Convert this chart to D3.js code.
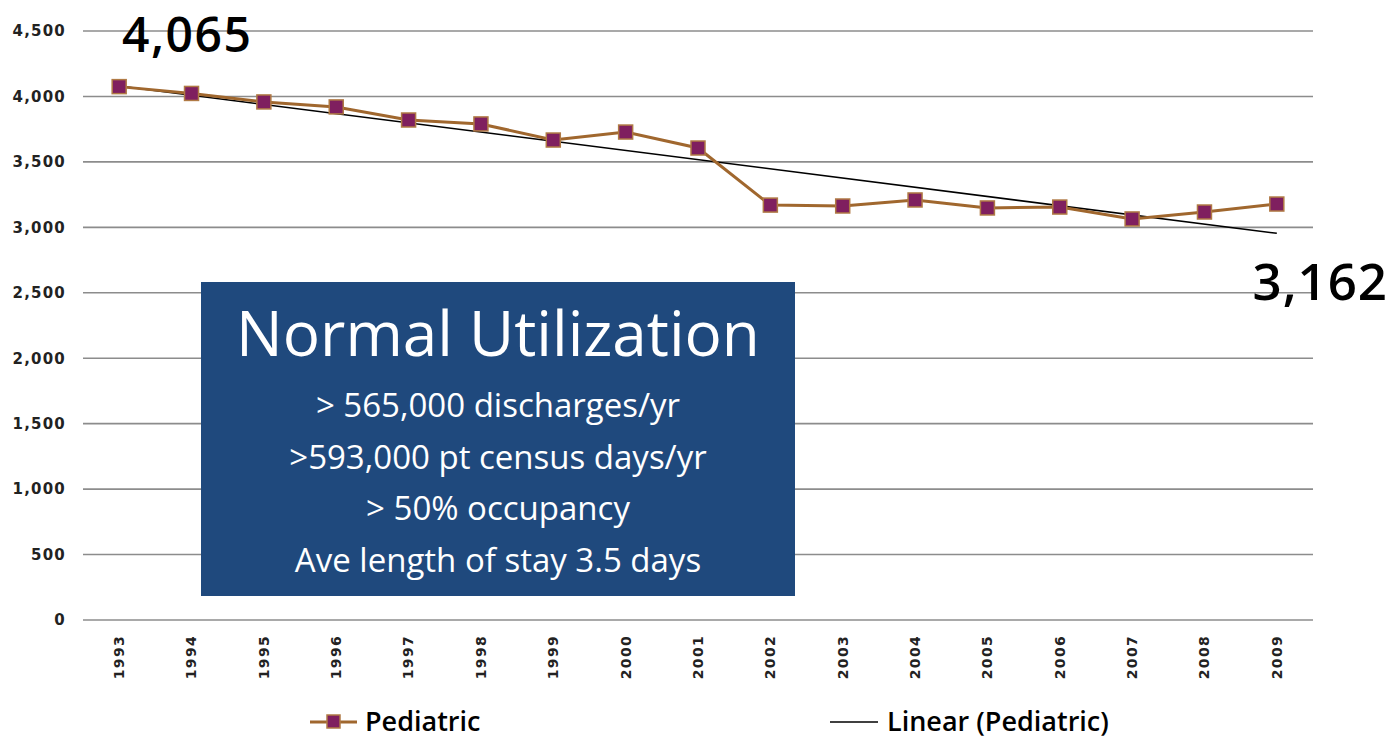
<!DOCTYPE html>
<html>
<head>
<meta charset="utf-8">
<script src="https://cdn.jsdelivr.net/npm/d3@7"></script>
<style>
  body { margin: 0; background: #fff; }
  svg { display: block; }
</style>
</head>
<body>
<div class="panel"></div>
<script>
const width = 1395;
const height = 741;
const margins = {top: 31, right: 82, bottom: 121, left: 83};

const years = ["1993","1994","1995","1996","1997","1998","1999","2000","2001",
               "2002","2003","2004","2005","2006","2007","2008","2009"];
const pediatric = [4075, 4023, 3958, 3920, 3820, 3790, 3667, 3728, 3606,
                   3170, 3163, 3209, 3148, 3155, 3064, 3117, 3178];
const yTicks = [0, 500, 1000, 1500, 2000, 2500, 3000, 3500, 4000, 4500];
const boxLines = ["> 565,000 discharges/yr", ">593,000 pt census days/yr",
                  "> 50% occupancy", "Ave length of stay 3.5 days"];
const callouts = ["4,065", "3,162"];

const svg = d3.select(".panel")
  .append("svg")
  .attr("width", width)
  .attr("height", height);

const xScale = d3.scaleBand()
  .domain(years)
  .range([margins.left, width - margins.right]);

const yScale = d3.scaleLinear()
  .domain([0, 4500])
  .range([height - margins.bottom, margins.top]);

const cx = d => xScale(d) + xScale.bandwidth() / 2;

// gridlines
svg.append("g")
  .selectAll("line")
  .data(yTicks)
  .enter()
  .append("line")
  .attr("x1", margins.left)
  .attr("x2", width - margins.right)
  .attr("y1", d => yScale(d))
  .attr("y2", d => yScale(d))
  .attr("stroke", "#8c8c8c")
  .attr("stroke-width", 1.6);

const yAxis = d3.axisLeft(yScale).tickValues(yTicks).tickFormat(d3.format(",")).tickSize(0).tickPadding(17);
svg.append("g")
  .attr("transform", `translate(${margins.left},0)`)
  .call(yAxis)
  .call(g => g.select(".domain").remove())
  .selectAll("text")
  .attr("font-family", "DejaVu Sans")
  .attr("font-weight", "bold")
  .attr("font-size", 15)
  .attr("letter-spacing", 1.2)
  .attr("fill", "#222");

const xAxis = d3.axisBottom(xScale).tickSize(0).tickPadding(0);
svg.append("g")
  .attr("transform", `translate(0,${height - margins.bottom})`)
  .call(xAxis)
  .call(g => g.select(".domain").remove())
  .selectAll("text")
  .attr("font-family", "DejaVu Sans")
  .attr("font-weight", "bold")
  .attr("font-size", 14)
  .attr("letter-spacing", 1.3)
  .attr("fill", "#222")
  .attr("text-anchor", "end")
  .attr("dy", "0.35em")
  .attr("transform", "translate(0,15) rotate(-90)")
  .attr("y", 0)
  .attr("x", 0);

// annotation box
svg.append("rect")
  .attr("x", 201).attr("y", 282)
  .attr("width", 594).attr("height", 314)
  .attr("fill", "#1f497d");

svg.append("text")
  .attr("x", 498).attr("y", 356)
  .attr("text-anchor", "middle")
  .attr("font-family", "Open Sans")
  .attr("font-size", 62)
  .attr("fill", "#fff")
  .text("Normal Utilization");

svg.append("g")
  .selectAll("text")
  .data(boxLines)
  .enter()
  .append("text")
  .attr("x", 498)
  .attr("y", (d, i) => 417 + i * 51.5)
  .attr("text-anchor", "middle")
  .attr("font-family", "Open Sans")
  .attr("font-size", 33)
  .attr("fill", "#fff")
  .text(d => d);

// linear trend
const xs = years.map((d, i) => i);
const xm = d3.mean(xs), ym = d3.mean(pediatric);
const slope = d3.sum(xs, (x, i) => (x - xm) * (pediatric[i] - ym)) / d3.sum(xs, x => (x - xm) * (x - xm));
const intercept = ym - slope * xm;

svg.append("line")
  .attr("x1", cx(years[0]))
  .attr("y1", yScale(intercept))
  .attr("x2", cx(years[years.length - 1]))
  .attr("y2", yScale(intercept + slope * (years.length - 1)))
  .attr("stroke", "#000")
  .attr("stroke-width", 1.5);

// series
const line = d3.line()
  .x((d, i) => cx(years[i]))
  .y(d => yScale(d));

svg.append("path")
  .datum(pediatric)
  .attr("d", line)
  .attr("fill", "none")
  .attr("stroke", "#a0672e")
  .attr("stroke-width", 3);

svg.append("g")
  .selectAll("rect")
  .data(pediatric)
  .enter()
  .append("rect")
  .attr("x", (d, i) => cx(years[i]) - 7)
  .attr("y", d => yScale(d) - 7)
  .attr("width", 14)
  .attr("height", 14)
  .attr("fill", "#7f1f5f")
  .attr("stroke", "#b07a45")
  .attr("stroke-width", 1.5);

// callouts
svg.append("text")
  .attr("x", 122).attr("y", 52)
  .attr("font-family", "Open Sans")
  .attr("font-weight", "600")
  .attr("font-size", 48)
  .attr("letter-spacing", 1.5)
  .attr("fill", "#000")
  .text(callouts[0]);

svg.append("text")
  .attr("x", 1388).attr("y", 300)
  .attr("text-anchor", "end")
  .attr("font-family", "Open Sans")
  .attr("font-weight", "600")
  .attr("font-size", 51)
  .attr("letter-spacing", 1)
  .attr("fill", "#000")
  .text(callouts[1]);

// legend
const legend = svg.append("g");
legend.append("line")
  .attr("x1", 310).attr("x2", 357).attr("y1", 722).attr("y2", 722)
  .attr("stroke", "#a0672e").attr("stroke-width", 3);
legend.append("rect")
  .attr("x", 327).attr("y", 715).attr("width", 13).attr("height", 13)
  .attr("fill", "#7f1f5f").attr("stroke", "#b07a45").attr("stroke-width", 1.5);
legend.append("text")
  .attr("x", 365).attr("y", 731)
  .attr("font-family", "Open Sans").attr("font-weight", "600").attr("font-size", 27)
  .text("Pediatric");
legend.append("line")
  .attr("x1", 830).attr("x2", 878).attr("y1", 722).attr("y2", 722)
  .attr("stroke", "#000").attr("stroke-width", 1.5);
legend.append("text")
  .attr("x", 887).attr("y", 731)
  .attr("font-family", "Open Sans").attr("font-weight", "600").attr("font-size", 27)
  .text("Linear (Pediatric)");
</script>
</body>
</html>
